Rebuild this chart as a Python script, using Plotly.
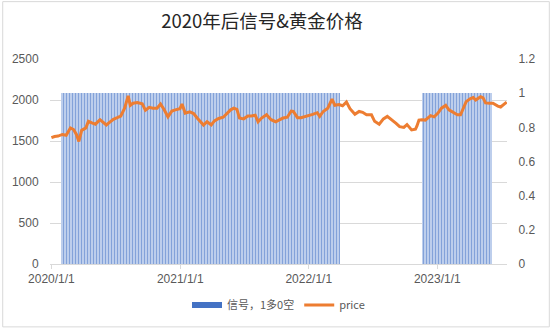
import pandas as pd
import plotly.graph_objects as go

# Gold price (USD/oz), sampled roughly twice a month
price_dates = [
    "2020-01-01", "2020-01-10", "2020-01-20", "2020-02-01", "2020-02-12", "2020-02-24",
    "2020-03-04", "2020-03-12", "2020-03-19", "2020-03-27", "2020-04-08", "2020-04-15",
    "2020-04-25", "2020-05-05", "2020-05-18", "2020-05-28", "2020-06-05", "2020-06-15",
    "2020-06-25", "2020-07-06", "2020-07-16", "2020-07-27", "2020-08-06", "2020-08-12",
    "2020-08-20", "2020-09-01", "2020-09-15", "2020-09-24", "2020-10-05", "2020-10-15",
    "2020-10-27", "2020-11-06", "2020-11-16", "2020-11-27", "2020-12-08", "2020-12-18",
    "2020-12-31", "2021-01-06", "2021-01-15", "2021-01-28", "2021-02-08", "2021-02-18",
    "2021-03-01", "2021-03-08", "2021-03-18", "2021-03-30", "2021-04-08", "2021-04-20",
    "2021-05-03", "2021-05-12", "2021-05-24", "2021-06-02", "2021-06-11", "2021-06-18",
    "2021-06-30", "2021-07-12", "2021-07-22", "2021-08-02", "2021-08-10", "2021-08-20",
    "2021-09-03", "2021-09-16", "2021-09-29", "2021-10-08", "2021-10-20", "2021-11-01",
    "2021-11-12", "2021-11-18", "2021-11-30", "2021-12-10", "2021-12-20", "2021-12-31",
    "2022-01-12", "2022-01-25", "2022-02-01", "2022-02-11", "2022-02-24", "2022-03-08",
    "2022-03-16", "2022-03-28", "2022-04-07", "2022-04-18", "2022-04-28", "2022-05-12",
    "2022-05-24", "2022-06-03", "2022-06-14", "2022-06-28", "2022-07-07", "2022-07-20",
    "2022-08-01", "2022-08-12", "2022-08-25", "2022-09-06", "2022-09-16", "2022-09-28",
    "2022-10-07", "2022-10-20", "2022-10-31", "2022-11-04", "2022-11-10", "2022-11-18",
    "2022-11-28", "2022-12-05", "2022-12-13", "2022-12-23", "2023-01-03", "2023-01-13",
    "2023-01-25", "2023-02-03", "2023-02-13", "2023-02-27", "2023-03-08", "2023-03-17",
    "2023-03-24", "2023-04-04", "2023-04-13", "2023-04-20", "2023-05-04", "2023-05-11",
    "2023-05-18", "2023-05-30", "2023-06-08", "2023-06-22", "2023-06-30", "2023-07-10",
    "2023-07-17",
]
price_values = [
    1540, 1555, 1560, 1580, 1570, 1660,
    1640, 1580, 1495, 1630, 1660, 1740,
    1720, 1705, 1760, 1730, 1695, 1730,
    1765, 1785, 1805, 1900, 2050, 1935,
    1960, 1970, 1955, 1875, 1910, 1900,
    1900, 1950, 1885, 1795, 1865, 1880,
    1895, 1950, 1840, 1855, 1835, 1780,
    1730, 1695, 1735, 1695, 1745, 1775,
    1790, 1830, 1880, 1900, 1885, 1780,
    1770, 1805, 1805, 1815, 1735, 1780,
    1820, 1760, 1735, 1755, 1780, 1790,
    1865, 1860, 1785, 1785, 1795, 1815,
    1825, 1845, 1800, 1860, 1900, 2010,
    1935, 1945, 1930, 1975, 1895, 1825,
    1860, 1850, 1820, 1820, 1740, 1705,
    1770, 1800, 1760, 1715, 1675, 1665,
    1700, 1635, 1645, 1680, 1755, 1760,
    1755, 1785, 1810, 1795, 1840, 1900,
    1935, 1880, 1855, 1820, 1820, 1920,
    1980, 2015, 2030, 2000, 2040, 2025,
    1965, 1960, 1960, 1925, 1915, 1950,
    1975,
]

# Signal: 1 = long, 0 = short; long periods as (start, end)
long_periods = [("2020-01-27", "2022-04-02"), ("2022-11-17", "2023-06-04")]
signal_dates = pd.date_range("2020-01-01", "2023-07-17", freq="8D")
signal_values = [
    1 if any(pd.Timestamp(s) <= d <= pd.Timestamp(e) for s, e in long_periods) else 0
    for d in signal_dates
]

x_ticks = ["2020-01-01", "2021-01-01", "2022-01-01", "2023-01-01"]
x_labels = ["2020/1/1", "2021/1/1", "2022/1/1", "2023/1/1"]
left_ticks = [0, 500, 1000, 1500, 2000, 2500]
right_ticks = [0, 0.2, 0.4, 0.6, 0.8, 1, 1.2]
right_labels = ["0", "0.2", "0.4", "0.6", "0.8", "1", "1.2"]

BLUE = "#4472C4"
ORANGE = "#ED7D31"
GRID = "#D9D9D9"
TXT = "#595959"
SIGNAL_NAME = "信号，1多0空"
bar_width_ms = 8 * 24 * 3600 * 1000

fig = go.Figure()
fig.add_trace(go.Bar(
    x=signal_dates, y=signal_values, name=SIGNAL_NAME,
    width=bar_width_ms, yaxis="y", showlegend=False, legendgroup="signal",
    marker=dict(
        color="#C3D3EE", line=dict(width=0),
        pattern=dict(shape="|", fgcolor=BLUE, bgcolor="#C3D3EE",
                     size=3, solidity=0.4, fillmode="overlay"),
    ),
))
# legend entry for the signal: a flat solid swatch
fig.add_trace(go.Scatter(
    x=[None], y=[None], name=SIGNAL_NAME, yaxis="y", legendgroup="signal",
    mode="lines", line=dict(color=BLUE, width=6), hoverinfo="skip",
))
fig.add_trace(go.Scatter(
    x=pd.to_datetime(price_dates), y=price_values, name="price", yaxis="y2",
    mode="lines", line=dict(color=ORANGE, width=3),
))

fig.update_layout(
    width=550, height=331,
    margin=dict(l=48, r=43, t=59, b=64),
    paper_bgcolor="white", plot_bgcolor="white",
    bargap=0,
    font=dict(family="Liberation Sans, Arial, sans-serif", size=12, color=TXT),
    title=dict(
        text="2020年后信号&黄金价格", x=262 / 550, xanchor="center", xref="container",
        y=1 - 22 / 331, yanchor="middle", yref="container",
        font=dict(family="Noto Sans CJK SC", size=18.5, color="#262626"),
    ),
    xaxis=dict(
        type="date", range=["2019-12-28", "2023-07-18"],
        tickvals=x_ticks, ticktext=x_labels, showgrid=False,
        showline=True, linecolor=GRID, ticks="outside", ticklen=4, tickcolor=GRID,
        tickfont=dict(size=12, color=TXT),
    ),
    yaxis=dict(
        side="right", range=[0, 1.2], tickvals=right_ticks, ticktext=right_labels,
        showgrid=False, zeroline=False, ticklen=8, ticks="outside", tickcolor="rgba(0,0,0,0)",
        tickfont=dict(size=12, color=TXT),
    ),
    yaxis2=dict(
        overlaying="y", side="left", range=[0, 2500], tickvals=left_ticks,
        showgrid=True, gridcolor=GRID, gridwidth=1, zeroline=False,
        ticks="outside", ticklen=8, tickcolor="rgba(0,0,0,0)",
        tickfont=dict(size=12, color=TXT),
    ),
    legend=dict(
        orientation="h", x=0.5, xanchor="center", y=-0.2, yanchor="middle",
        font=dict(family="Noto Sans CJK SC", size=11, color=TXT),
        traceorder="normal", itemwidth=30,
    ),
    shapes=[dict(
        type="rect", xref="paper", yref="paper",
        x0=-47.5 / 459, x1=501.5 / 459, y0=-63.8 / 208, y1=266.2 / 208,
        line=dict(color=GRID, width=1), fillcolor="rgba(0,0,0,0)", layer="below",
    )],
)

fig.write_html("out.html")
